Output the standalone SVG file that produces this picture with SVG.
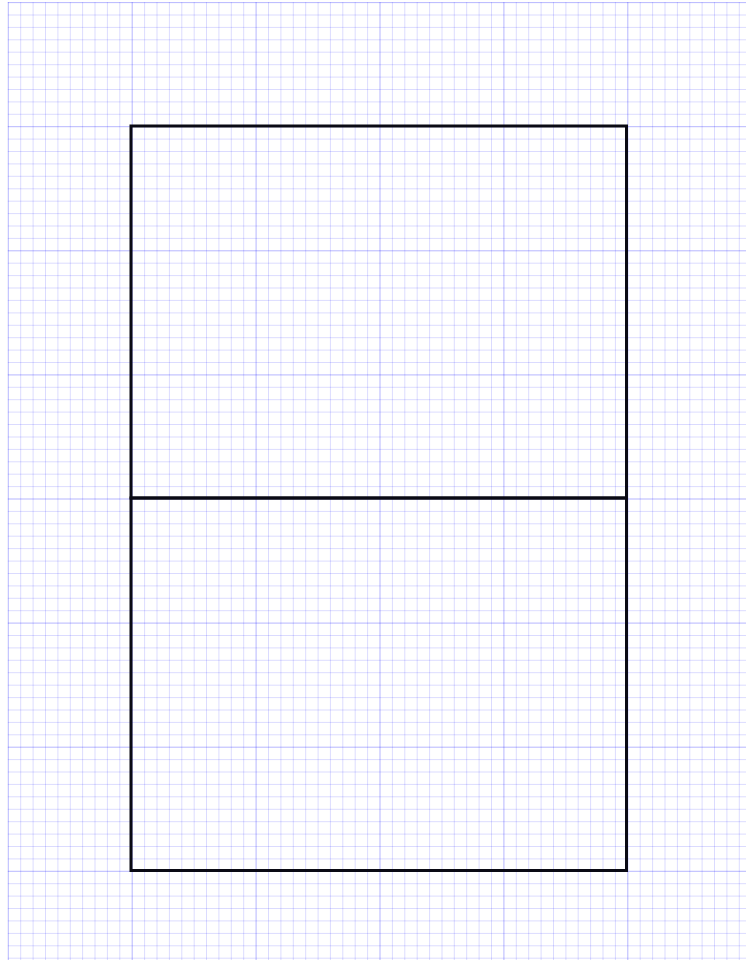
<svg xmlns="http://www.w3.org/2000/svg" width="746" height="960" viewBox="0 0 746 960">
<defs>
<style>
.minor{stroke:#0000ff;stroke-opacity:0.14;stroke-width:1;fill:none}
.major{stroke:#0000ff;stroke-opacity:0.16;stroke-width:1;fill:none}
.box{stroke:#0a0a14;stroke-width:3;fill:none}
</style>
</defs>
<rect width="746" height="960" fill="#ffffff"/>
<g id="grid">
<path class="minor" d="M8.3 2.1V960M20.7 2.1V960M33.1 2.1V960M45.5 2.1V960M57.9 2.1V960M70.3 2.1V960M82.6 2.1V960M95 2.1V960M107.4 2.1V960M119.8 2.1V960M132.2 2.1V960M144.6 2.1V960M157 2.1V960M169.4 2.1V960M181.8 2.1V960M194.2 2.1V960M206.5 2.1V960M218.9 2.1V960M231.3 2.1V960M243.7 2.1V960M256.1 2.1V960M268.5 2.1V960M280.9 2.1V960M293.3 2.1V960M305.7 2.1V960M318.1 2.1V960M330.4 2.1V960M342.8 2.1V960M355.2 2.1V960M367.6 2.1V960M380 2.1V960M392.4 2.1V960M404.8 2.1V960M417.2 2.1V960M429.6 2.1V960M442 2.1V960M454.3 2.1V960M466.7 2.1V960M479.1 2.1V960M491.5 2.1V960M503.9 2.1V960M516.3 2.1V960M528.7 2.1V960M541.1 2.1V960M553.5 2.1V960M565.9 2.1V960M578.2 2.1V960M590.6 2.1V960M603 2.1V960M615.4 2.1V960M627.8 2.1V960M640.2 2.1V960M652.6 2.1V960M665 2.1V960M677.4 2.1V960M689.8 2.1V960M702.1 2.1V960M714.5 2.1V960M726.9 2.1V960M739.3 2.1V960"/>
<path class="minor" d="M7.8 2.6H746M7.8 15H746M7.8 27.4H746M7.8 39.8H746M7.8 52.2H746M7.8 64.7H746M7.8 77.1H746M7.8 89.5H746M7.8 101.9H746M7.8 114.3H746M7.8 126.7H746M7.8 139.1H746M7.8 151.5H746M7.8 163.9H746M7.8 176.3H746M7.8 188.8H746M7.8 201.2H746M7.8 213.6H746M7.8 226H746M7.8 238.4H746M7.8 250.8H746M7.8 263.2H746M7.8 275.6H746M7.8 288H746M7.8 300.4H746M7.8 312.9H746M7.8 325.3H746M7.8 337.7H746M7.8 350.1H746M7.8 362.5H746M7.8 374.9H746M7.8 387.3H746M7.8 399.7H746M7.8 412.1H746M7.8 424.5H746M7.8 437H746M7.8 449.4H746M7.8 461.8H746M7.8 474.2H746M7.8 486.6H746M7.8 499H746M7.8 511.4H746M7.8 523.8H746M7.8 536.2H746M7.8 548.6H746M7.8 561.1H746M7.8 573.5H746M7.8 585.9H746M7.8 598.3H746M7.8 610.7H746M7.8 623.1H746M7.8 635.5H746M7.8 647.9H746M7.8 660.3H746M7.8 672.7H746M7.8 685.2H746M7.8 697.6H746M7.8 710H746M7.8 722.4H746M7.8 734.8H746M7.8 747.2H746M7.8 759.6H746M7.8 772H746M7.8 784.4H746M7.8 796.8H746M7.8 809.3H746M7.8 821.7H746M7.8 834.1H746M7.8 846.5H746M7.8 858.9H746M7.8 871.3H746M7.8 883.7H746M7.8 896.1H746M7.8 908.5H746M7.8 920.9H746M7.8 933.4H746M7.8 945.8H746M7.8 958.2H746"/>
<path class="major" d="M8.3 2.1V960M132.2 2.1V960M256.1 2.1V960M380 2.1V960M503.9 2.1V960M627.8 2.1V960M7.8 2.6H746M7.8 126.7H746M7.8 250.8H746M7.8 374.9H746M7.8 499H746M7.8 623.1H746M7.8 747.2H746M7.8 871.3H746"/>
</g>
<g id="upper-cell">
<rect class="box" x="131" y="126" width="495.5" height="372"/>
</g>
<g id="lower-cell">
<rect class="box" x="131" y="498" width="495.5" height="372.5"/>
</g>
</svg>
